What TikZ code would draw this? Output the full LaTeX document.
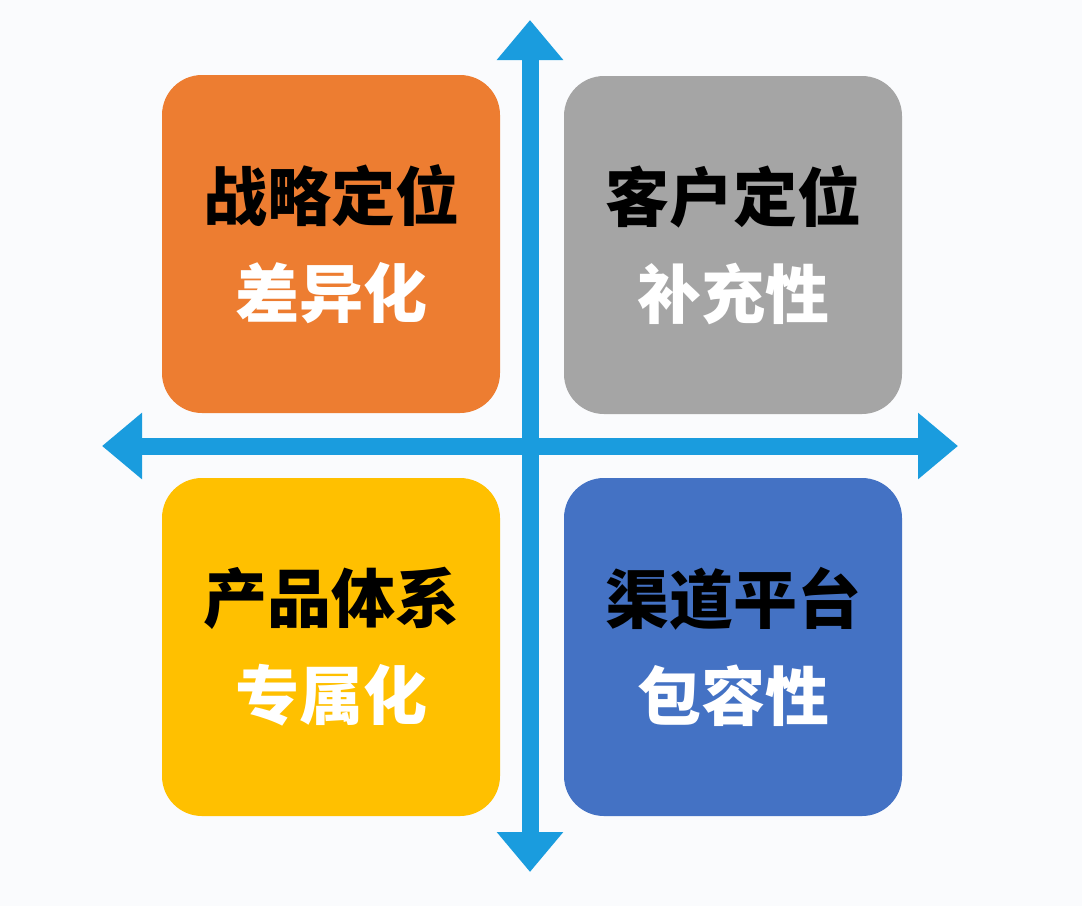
\documentclass[tikz,border=0pt]{standalone}
\usepackage{fontspec}
\newfontfamily\cjk{Noto Sans CJK SC}
\usetikzlibrary{arrows.meta}
\definecolor{axisblue}{HTML}{1A9CDE}
\definecolor{quadorange}{HTML}{ED7D31}
\definecolor{quadgray}{HTML}{A5A5A5}
\definecolor{quadyellow}{HTML}{FFC000}
\definecolor{quadblue}{HTML}{4472C4}
\definecolor{paper}{HTML}{FAFBFD}

\begin{document}
\begin{tikzpicture}[x=1pt, y=-1pt,
quad/.style={minimum width=338pt, minimum height=338pt,
  rounded corners=40pt, inner sep=0pt, align=center,
  font=\cjk\bfseries\fontsize{64}{97}\selectfont},
axis/.style={line width=17pt, axisblue,
  {Triangle[width=64pt,length=40pt]}-{Triangle[width=64pt,length=40pt]}},
]
\fill[paper] (0,0) rectangle (1082,906);

\node[quad, fill=quadorange] (strategy) at (331,244)
  {战略定位\\\textcolor{white}{差异化}};
\node[quad, fill=quadgray] (customer) at (733,245)
  {客户定位\\\textcolor{white}{补充性}};
\node[quad, fill=quadyellow] (product) at (331,647)
  {产品体系\\\textcolor{white}{专属化}};
\node[quad, fill=quadblue] (channel) at (733,647)
  {渠道平台\\\textcolor{white}{包容性}};

\coordinate (top) at (530,20);
\coordinate (bottom) at (530,872);
\coordinate (left) at (102,446);
\coordinate (right) at (958,446);
\draw[axis] (top) -- (bottom);
\draw[axis] (left) -- (right);
\end{tikzpicture}
\end{document}
